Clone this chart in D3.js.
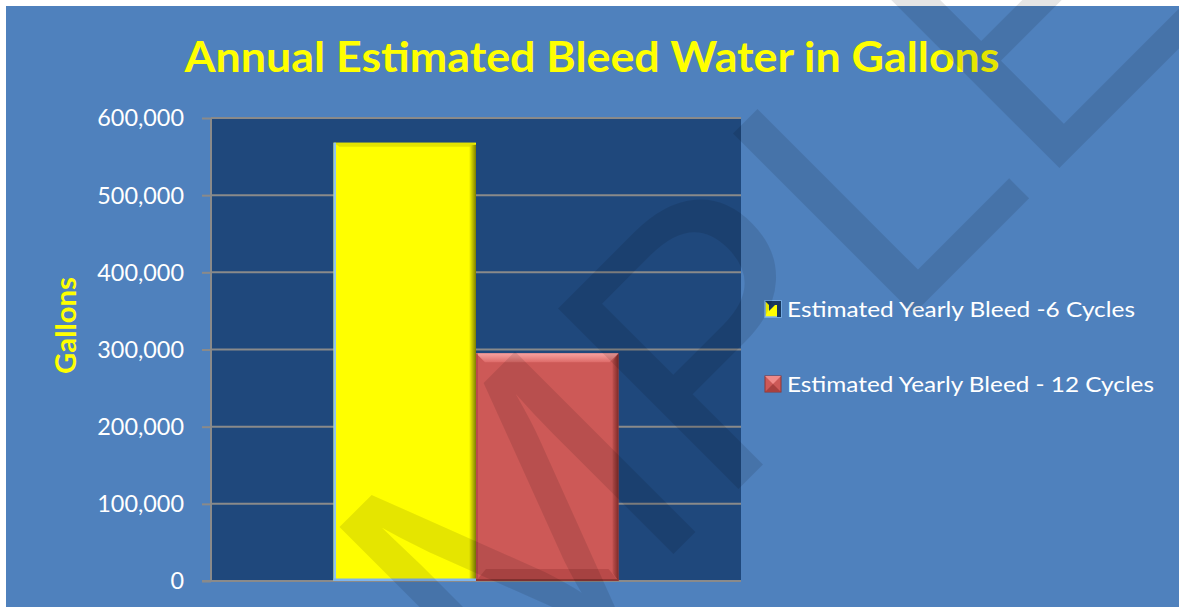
<!DOCTYPE html>
<html>
<head>
<meta charset="utf-8">
<script src="https://cdn.jsdelivr.net/npm/d3@7"></script>
<style>
  html, body { margin: 0; padding: 0; background: #ffffff; }
  svg { display: block; }
</style>
</head>
<body>
<svg id="chart" width="1179" height="607"></svg>
<script>
// ---------------- DATA ----------------
const titleText = "Annual Estimated Bleed Water in Gallons";
const yAxisTitle = "Gallons";
const categories = ["Bleed"];
const seriesNames = ["Estimated Yearly Bleed -6 Cycles", "Estimated Yearly Bleed - 12 Cycles"];
const seriesValues = [568000, 295000];
const seriesColors = ["#FFFF00", "#CD5957"];
const yTicks = [0, 100000, 200000, 300000, 400000, 500000, 600000];
const yTickLabels = ["0", "100,000", "200,000", "300,000", "400,000", "500,000", "600,000"];
const watermarkText = "SAMPLE";

// ---------------- LAYOUT ----------------
const W = 1179, H = 607;
const svg = d3.select("#chart");
const plot = { left: 211, right: 741, top: 118, bottom: 581 };

// page background
svg.append("rect").attr("x", 0).attr("y", 0).attr("width", W).attr("height", H).attr("fill", "#ffffff");
svg.append("rect").attr("x", 6).attr("y", 6).attr("width", W - 6).attr("height", H - 6).attr("fill", "#4F81BD");

const defs = svg.append("defs");

// scales
const y = d3.scaleLinear().domain([0, 600000]).range([plot.bottom, plot.top]);
const x0 = d3.scaleBand().domain(categories).range([plot.left, plot.right]).paddingInner(0).paddingOuter(0.43);
const x1 = d3.scaleBand().domain(seriesNames).range([0, x0.bandwidth()]).padding(0);

// plot area
svg.append("rect")
  .attr("x", plot.left).attr("y", plot.top)
  .attr("width", plot.right - plot.left).attr("height", plot.bottom - plot.top)
  .attr("fill", "#1F487C");

// gridlines
svg.append("g").selectAll("line").data(yTicks.filter(d => d > 0)).join("line")
  .attr("x1", plot.left).attr("x2", plot.right)
  .attr("y1", d => y(d)).attr("y2", d => y(d))
  .attr("stroke", "#8A8A8A").attr("stroke-width", 2);

// y axis (tick marks + line), labels drawn separately
const yAxis = d3.axisLeft(y).tickValues(yTicks).tickSize(9).tickFormat("");
const gAxis = svg.append("g").attr("transform", `translate(${plot.left},0)`).call(yAxis);
gAxis.select(".domain").attr("stroke", "#8A8A8A").attr("stroke-width", 2).attr("d", `M0,${plot.top}V${plot.bottom}`);
gAxis.selectAll(".tick line").attr("stroke", "#8A8A8A").attr("stroke-width", 2);

// bottom axis line
svg.append("line")
  .attr("x1", plot.left - 9).attr("x2", plot.right)
  .attr("y1", y(0)).attr("y2", y(0))
  .attr("stroke", "#8A8A8A").attr("stroke-width", 2);

// tick labels
svg.append("g").selectAll("text").data(yTicks).join("text")
  .attr("x", 184).attr("y", d => y(d) + 8.4)
  .attr("text-anchor", "end")
  .attr("font-family", "Lato, 'Open Sans', sans-serif")
  .attr("font-size", 23.4)
  .attr("fill", "#FFFFFF")
  .text((d, i) => yTickLabels[i]);

// gradients for bevel effect
const gY = defs.append("linearGradient").attr("id", "yRight").attr("x1", "0").attr("x2", "1").attr("y1", "0").attr("y2", "0");
gY.append("stop").attr("offset", "0").attr("stop-color", "#FFFF00");
gY.append("stop").attr("offset", "1").attr("stop-color", "#7E7E00");
const gR = defs.append("linearGradient").attr("id", "rRight").attr("x1", "0").attr("x2", "1").attr("y1", "0").attr("y2", "0");
gR.append("stop").attr("offset", "0").attr("stop-color", "#C0504E");
gR.append("stop").attr("offset", "1").attr("stop-color", "#7E2B29");
const gRT = defs.append("linearGradient").attr("id", "rTop").attr("x1", "0").attr("x2", "0").attr("y1", "0").attr("y2", "1");
gRT.append("stop").attr("offset", "0").attr("stop-color", "#F7A3A1");
gRT.append("stop").attr("offset", "1").attr("stop-color", "#DD6A68");

// bars
const bars = seriesNames.map((s, i) => ({
  name: s, value: seriesValues[i], color: seriesColors[i],
  x: x0(categories[0]) + x1(s), w: x1.bandwidth(), yTop: y(seriesValues[i]), yBot: y(0)
}));
const gBars = svg.append("g");
bars.forEach((b, i) => {
  const g = gBars.append("g");
  const h = b.yBot - b.yTop;
  g.append("rect").attr("x", b.x).attr("y", b.yTop).attr("width", b.w).attr("height", h).attr("fill", b.color);
  if (i === 0) {
    // right shading
    g.append("rect").attr("x", b.x + b.w - 7).attr("y", b.yTop + 2).attr("width", 7).attr("height", h - 2).attr("fill", "url(#yRight)");
    // top edge
    g.append("polygon").attr("points", `${b.x},${b.yTop} ${b.x + b.w},${b.yTop} ${b.x + b.w - 6},${b.yTop + 4} ${b.x + 6},${b.yTop + 4}`)
      .attr("fill", "#D8D800").attr("opacity", 0.7);
    // left light blue edge and bottom
    g.append("rect").attr("x", b.x).attr("y", b.yTop).attr("width", 2.5).attr("height", h).attr("fill", "#8EC3F2");
    g.append("rect").attr("x", b.x).attr("y", b.yBot - 2.5).attr("width", b.w).attr("height", 2.5).attr("fill", "#7FB5EC");
  } else {
    // bottom band
    g.append("polygon").attr("points", `${b.x},${b.yBot} ${b.x + 10},${b.yBot - 12} ${b.x + b.w - 10},${b.yBot - 12} ${b.x + b.w},${b.yBot}`)
      .attr("fill", "#B24644").attr("opacity", 0.75);
    // right shading
    g.append("polygon").attr("points", `${b.x + b.w - 6},${b.yTop + 8} ${b.x + b.w},${b.yTop} ${b.x + b.w},${b.yBot} ${b.x + b.w - 6},${b.yBot - 8}`)
      .attr("fill", "url(#rRight)");
    // top highlight
    g.append("polygon").attr("points", `${b.x},${b.yTop} ${b.x + b.w},${b.yTop} ${b.x + b.w - 9},${b.yTop + 9} ${b.x + 9},${b.yTop + 9}`)
      .attr("fill", "url(#rTop)");
    // left subtle edge
    g.append("rect").attr("x", b.x).attr("y", b.yTop).attr("width", 2).attr("height", h).attr("fill", "#A94442").attr("opacity", 0.6);
    g.append("rect").attr("x", b.x).attr("y", b.yBot - 2).attr("width", b.w).attr("height", 2).attr("fill", "#8E3634");
  }
});

// title
function fitText(sel, len) {
  const n = sel.node();
  const cur = n.getComputedTextLength();
  if (Math.abs(cur - len) > 1) sel.attr("textLength", len).attr("lengthAdjust", "spacingAndGlyphs");
}
const title = svg.append("text")
  .attr("x", 592).attr("y", 72)
  .attr("text-anchor", "middle")
  .attr("font-family", "Lato, 'Open Sans', sans-serif")
  .attr("font-weight", "bold")
  .attr("font-size", 41.5)
  .attr("fill", "#FFFF00")
  .text(titleText);
fitText(title, 815);

// y axis title
const yt = svg.append("text")
  .attr("transform", "translate(76,325.5) rotate(-90)")
  .attr("text-anchor", "middle")
  .attr("font-family", "Lato, 'Open Sans', sans-serif")
  .attr("font-weight", "bold")
  .attr("font-size", 29)
  .attr("fill", "#FFFF00")
  .text(yAxisTitle);
fitText(yt, 97);

// legend
const legendRows = [309, 384];
const legendWidths = [348, 367];
const gLeg = svg.append("g");
seriesNames.forEach((s, i) => {
  const cy = legendRows[i];
  const sx = 765, sz = 16, sy = cy - 8;
  if (i === 0) {
    gLeg.append("rect").attr("x", sx).attr("y", sy).attr("width", sz).attr("height", sz).attr("fill", "#FFFF00").attr("stroke", "#7FB5EC").attr("stroke-width", 1.5);
    gLeg.append("polygon").attr("points", `${sx},${sy} ${sx + sz},${sy} ${sx + sz},${sy + sz} ${sx + sz - 4},${sy + sz} ${sx + sz - 4},${sy + 4} ${sx + 4},${sy + 4}`).attr("fill", "#17375E");
    gLeg.append("polygon").attr("points", `${sx + 4},${sy + 4} ${sx + 10},${sy + 4} ${sx + 4},${sy + 10}`).attr("fill", "#17375E");
  } else {
    gLeg.append("rect").attr("x", sx).attr("y", sy).attr("width", sz).attr("height", sz).attr("fill", "#CD5957").attr("stroke", "#8E3634").attr("stroke-width", 1);
    gLeg.append("polygon").attr("points", `${sx},${sy} ${sx + sz},${sy} ${sx + sz / 2},${sy + sz / 2}`).attr("fill", "#F08A88");
    gLeg.append("polygon").attr("points", `${sx},${sy + sz} ${sx + sz},${sy + sz} ${sx + sz / 2},${sy + sz / 2}`).attr("fill", "#A8403E");
  }
  const t = gLeg.append("text")
    .attr("x", 787).attr("y", cy + 7.5)
    .attr("font-family", "Lato, 'Open Sans', sans-serif")
    .attr("font-size", 21.2)
    .attr("fill", "#FFFFFF")
    .text(s);
  fitText(t, legendWidths[i]);
});

// watermark
svg.append("text")
  .attr("transform", "translate(148.5,1079) rotate(-45)")
  .attr("font-family", "'Liberation Sans', Arial, sans-serif")
  .attr("font-size", 371)
  .attr("fill", "#000000")
  .attr("fill-opacity", 0.1)
  .text(watermarkText);
</script>
</body>
</html>
